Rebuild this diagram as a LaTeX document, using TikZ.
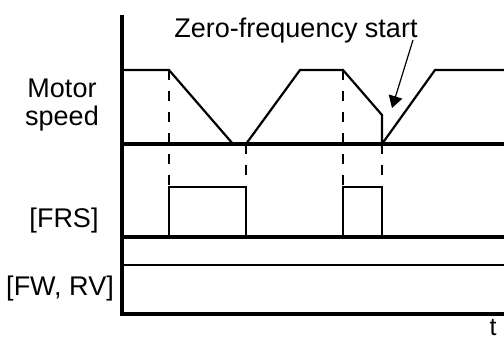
\documentclass[tikz,border=0pt]{standalone}
\usepackage{fontspec}
\setsansfont{Liberation Sans}
\usetikzlibrary{arrows.meta}

\begin{document}
\begin{tikzpicture}[>=Stealth,font=\sffamily,x=1pt,y=-1pt,
    axisline/.style={line width=3.2pt},
    wave/.style={line width=2.2pt},
    guide/.style={line width=2.2pt,dash pattern=on 10pt off 11pt},
    lbl/.style={anchor=base,inner sep=0pt,
                font=\sffamily\fontsize{27}{31}\selectfont}]

  \useasboundingbox (0,0) rectangle (504,341);

  % --- axes and zero levels ---
  \draw[axisline] (122,15) -- (122,314) -- (504,314);
  \draw[axisline] (122,144) -- (504,144);
  \draw[axisline] (122,237) -- (504,237);
  \draw[line width=1.8pt] (122,265) -- (504,265);

  % --- motor speed ---
  \draw[wave] (122,70) -- (169,70) -- (233,144);
  \draw[wave] (246,144) -- (300,70) -- (343,70) -- (382,115)
              -- (382,144) -- (435,70) -- (504,70);

  % --- FRS pulses ---
  \draw[wave] (169,237) -- (169,187) -- (246,187) -- (246,237);
  \draw[wave] (343,237) -- (343,187) -- (382,187) -- (382,237);

  % --- dashed guides ---
  \draw[guide] (169,70) -- (169,187);
  \draw[guide] (246,144) -- (246,187);
  \draw[guide] (343,70) -- (343,187);
  \draw[guide] (382,144) -- (382,187);

  % --- labels ---
  \node[lbl] (motor) at (62,97)  {Motor};
  \node[lbl] (speed) at (62,125) {speed};
  \node[lbl] (frs)   at (64,227) {[FRS]};
  \node[lbl] (fwrv)  at (60,295) {[FW, RV]};
  \node[lbl,font=\sffamily\fontsize{25}{29}\selectfont]
             (tlab)  at (493,335) {t};
  \node[lbl] (zfs)   at (296,37) {Zero-frequency start};

  % --- pointer to the restart ---
  \coordinate (zfstail) at (413,40);
  \coordinate (zfstip)  at (392,108);
  \draw[line width=1.2pt,-{Triangle[length=12pt,width=14pt]}]
        (zfstail) -- (zfstip);

\end{tikzpicture}
\end{document}
